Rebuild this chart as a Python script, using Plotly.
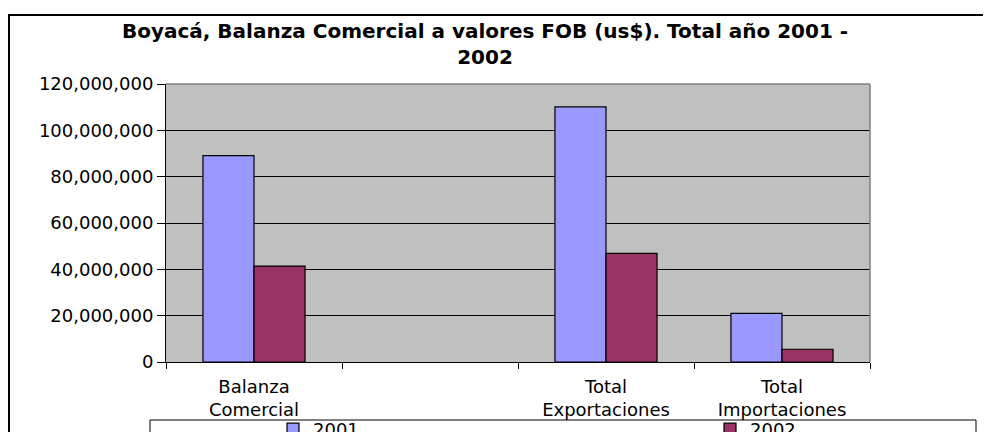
import plotly.graph_objects as go

# Data
categories = ["Balanza<br>Comercial", " ", "Total<br>Exportaciones", "Total<br>Importaciones"]
values_2001 = [89100000, None, 110100000, 21000000]
values_2002 = [41400000, None, 46900000, 5500000]
y_ticks = [0, 20000000, 40000000, 60000000, 80000000, 100000000, 120000000]

# the page adds an 8px body margin, so the figure is drawn 8px smaller
W, H = 983, 424
L, R, T, B = 158, 862, 76, 354  # plot area in figure pixels


def px_x(p):
    return (p - L) / (R - L)


def px_y(p):
    return (B - p) / (B - T)


fig = go.Figure()

fig.add_trace(go.Bar(
    x=categories, y=values_2001, name="2001", legend="legend",
    marker=dict(color="#9999FF", line=dict(color="black", width=1.2))
))
fig.add_trace(go.Bar(
    x=categories, y=values_2002, name="2002", legend="legend2",
    marker=dict(color="#993366", line=dict(color="black", width=1.2))
))

legend_style = dict(
    orientation="h", xanchor="left", yanchor="top",
    bgcolor="rgba(0,0,0,0)", borderwidth=0,
    font=dict(size=18),
)

fig.update_layout(
    width=W, height=H,
    margin=dict(l=L, r=W - R, t=T, b=H - B, autoexpand=False),
    paper_bgcolor="white",
    plot_bgcolor="#C0C0C0",
    barmode="group",
    bargap=0.42,
    bargroupgap=0,
    font=dict(family="DejaVu Sans", color="black"),
    title=dict(
        text="<b>Boyacá, Balanza Comercial a valores FOB (us$). Total año 2001 -<br>2002</b>",
        x=477 / W, xanchor="center", xref="container",
        y=1 - 30 / H, yanchor="top", yref="container",
        font=dict(family="DejaVu Sans", size=20, color="black")
    ),
    xaxis=dict(
        type="category",
        categoryorder="array", categoryarray=categories,
        range=[-0.5, 3.5],
        tickson="boundaries",
        ticks="outside", ticklen=6, tickcolor="black", tickwidth=1,
        showline=True, linecolor="black", linewidth=1,
        showgrid=False,
        ticklabelstandoff=8,
        tickfont=dict(size=18),
    ),
    yaxis=dict(
        range=[0, 120000000],
        tickvals=y_ticks, tickformat=",",
        ticks="outside", ticklen=8, tickcolor="black", tickwidth=1,
        showline=True, linecolor="black", linewidth=1,
        showgrid=True, gridcolor="black", gridwidth=1,
        zeroline=False,
        tickfont=dict(size=18),
    ),
    showlegend=True,
    legend=dict(legend_style, x=px_x(265), y=px_y(403)),
    legend2=dict(legend_style, x=px_x(702), y=px_y(403)),
    shapes=[
        # outer chart border
        dict(type="rect", xref="paper", yref="paper",
             x0=px_x(1), y0=px_y(440), x1=px_x(1000), y1=px_y(7),
             line=dict(color="black", width=2), layer="below"),
        # plot area border (top and right)
        dict(type="line", xref="paper", yref="paper",
             x0=0, y0=1, x1=1, y1=1, line=dict(color="#808080", width=1.5)),
        dict(type="line", xref="paper", yref="paper",
             x0=1, y0=0, x1=1, y1=1, line=dict(color="#808080", width=1.5)),
        # legend box
        dict(type="rect", xref="paper", yref="paper",
             x0=px_x(142), y0=px_y(440), x1=px_x(968), y1=px_y(412),
             line=dict(color="black", width=1), layer="below"),
    ],
)

fig.write_html("out.html")
